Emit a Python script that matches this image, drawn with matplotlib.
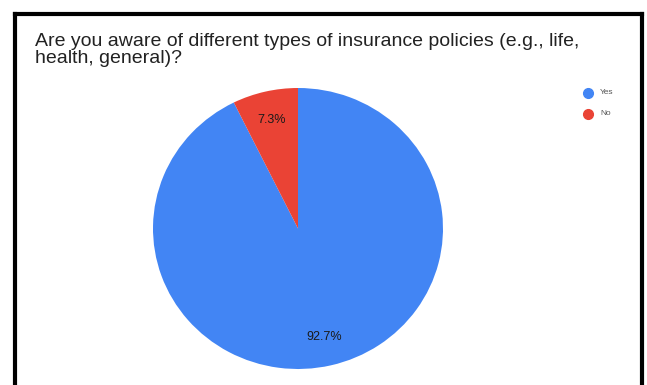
import matplotlib
matplotlib.use("Agg")
import matplotlib.pyplot as plt
from matplotlib.lines import Line2D

title = "Are you aware of different types of insurance policies (e.g., life,\nhealth, general)?"
labels = ["Yes", "No"]
values = [92.7, 7.3]
colors = ["#4285F4", "#EA4335"]

W, H = 647, 385
fig = plt.figure(figsize=(W / 100, H / 100), dpi=100)
fig.patch.set_facecolor("white")
plt.rcParams['font.family'] = ['Liberation Sans', 'DejaVu Sans']

def fx(x):
    return x / W

def fy(y):
    return 1 - y / H

# border
lw = 3.0
fig.add_artist(Line2D([fx(15), fx(15)], [fy(13.5), fy(400)], color="black", lw=lw, transform=fig.transFigure))
fig.add_artist(Line2D([fx(15), fx(642)], [fy(13.5), fy(13.5)], color="black", lw=lw, transform=fig.transFigure))
fig.add_artist(Line2D([fx(642), fx(642)], [fy(13.5), fy(400)], color="black", lw=lw, transform=fig.transFigure))

# title
fig.text(fx(35), fy(33), title, ha="left", va="top", fontsize=14, color="#222222", linespacing=1.0)

# pie
cx, cy, rx, ry = 298, 228.5, 145, 140.5
ax = fig.add_axes([fx(cx - rx), fy(cy + ry), 2 * rx / W, 2 * ry / H])
wedges, texts, autotexts = ax.pie(values, colors=colors, startangle=90, counterclock=False,
                                  autopct="%1.1f%%", pctdistance=0.79,
                                  textprops=dict(fontsize=9, color="#1a1a1a"),
                                  wedgeprops=dict(linewidth=0))
ax.set_xlim(-1, 1)
ax.set_ylim(-1, 1)
ax.set_aspect("auto")
ax.axis("off")

# legend
for i, (lab, col) in enumerate(zip(labels, colors)):
    y = 93 + i * 20.5
    fig.add_artist(Line2D([fx(588)], [fy(y)], marker="o", markersize=7, color=col, linestyle="none",
                          transform=fig.transFigure))
    fig.text(fx(600), fy(y), lab, ha="left", va="center", fontsize=6, color="#555555")

fig.savefig("out.png", dpi=100, facecolor="white")
